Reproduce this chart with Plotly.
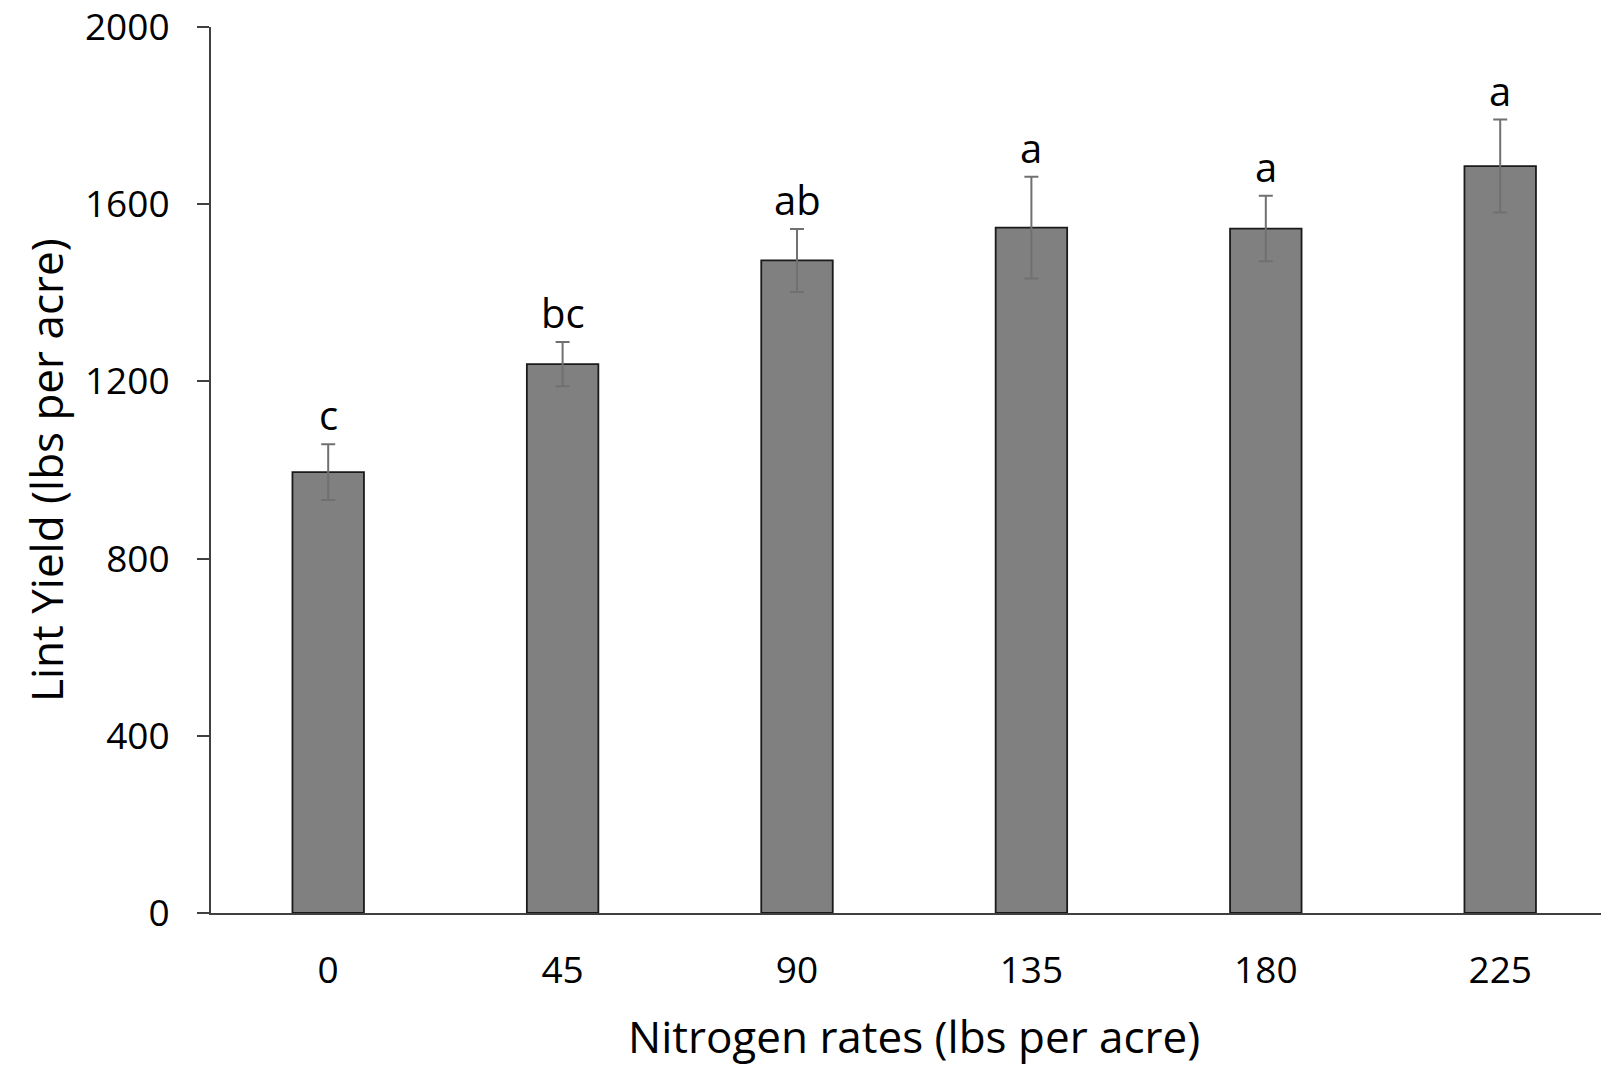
import plotly.graph_objects as go

rates = ["0", "45", "90", "135", "180", "225"]
lint_yield = [995, 1239, 1473, 1547, 1545, 1686]
yield_err = [63, 50, 71, 115, 74, 105]
letters = ["c", "bc", "ab", "a", "a", "a"]

FONT = "Open Sans"
fig = go.Figure()
fig.add_trace(go.Bar(
    x=rates, y=lint_yield, width=0.305,
    marker=dict(color="#808080", line=dict(color="#1a1a1a", width=1.8)),
    error_y=dict(type="data", array=yield_err, visible=True, color="#707070",
                 thickness=2, width=7),
    showlegend=False,
))

for i, (v, e, t) in enumerate(zip(lint_yield, yield_err, letters)):
    fig.add_annotation(x=i, y=v + e, text=t, showarrow=False, yanchor="bottom",
                       yshift=0, font=dict(family=FONT, size=40, color="#000"))

fig.add_annotation(x=2.5, xref="x", y=-0.139, yref="paper", yanchor="middle",
                   text="Nitrogen rates (lbs per acre)", showarrow=False,
                   font=dict(family=FONT, size=44, color="#000"))
fig.add_annotation(x=(46 - 211) / 1390, xref="paper", y=0.5, yref="paper",
                   xanchor="center", yanchor="middle", textangle=-90,
                   text="Lint Yield (lbs per acre)", showarrow=False,
                   font=dict(family=FONT, size=44, color="#000"))

fig.update_layout(
    width=1601, height=1066,
    margin=dict(l=211, r=0, t=24, b=153),
    paper_bgcolor="white", plot_bgcolor="white",
    font=dict(family=FONT, size=37, color="#000"),
    xaxis=dict(type="category", range=[-0.5, 5.43], showgrid=False,
               showline=True, linecolor="#404040", linewidth=2,
               ticks="", ticklabelstandoff=24, tickfont=dict(size=37)),
    yaxis=dict(range=[0, 2000], tickvals=[0, 400, 800, 1200, 1600, 2000],
               showgrid=False, zeroline=False,
               showline=True, linecolor="#404040", linewidth=2,
               ticks="outside", ticklen=12, tickwidth=2, tickcolor="#404040",
               ticklabelstandoff=20, tickfont=dict(size=37),
               ticklabeloverflow="allow"),
)
fig.write_html("out.html")
